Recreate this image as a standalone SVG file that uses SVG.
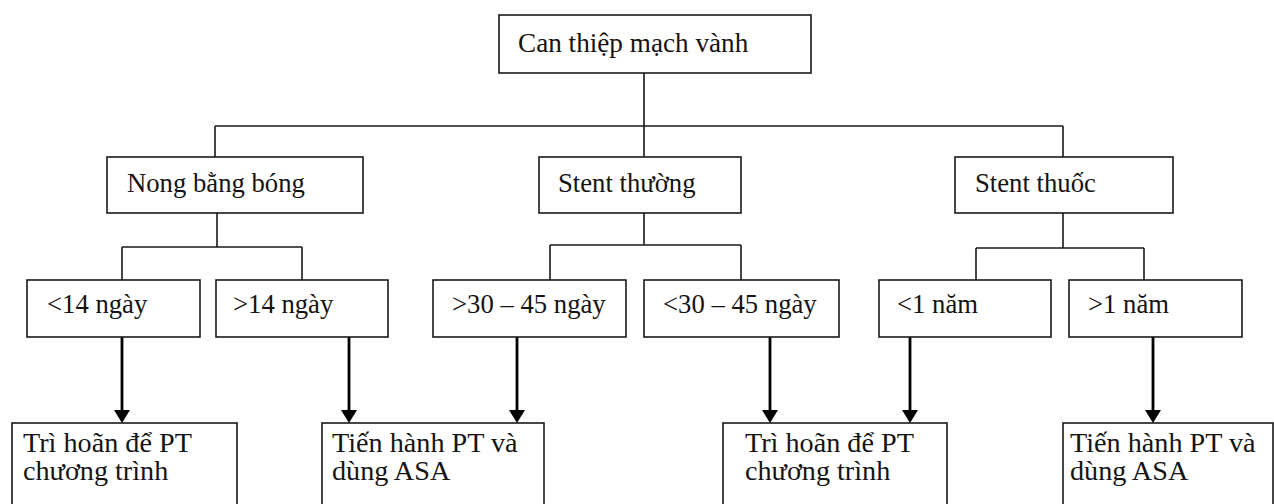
<svg xmlns="http://www.w3.org/2000/svg" width="1274" height="504" viewBox="0 0 1274 504">
  <style>
    .box { fill: #ffffff; stroke: #1a1a1a; stroke-width: 1.6; }
    .lbl { font-family: 'Liberation Serif', 'DejaVu Serif', serif; font-size: 26.7px; fill: #141414; }
    .big { font-size: 27.2px; }
    .out { font-size: 28.2px; }
    .tree { fill: none; stroke: #1a1a1a; stroke-width: 1.6; }
    .stem { stroke: #000000; stroke-width: 2.8; }
    .tip { fill: #000000; }
  </style>
  <rect width="1274" height="504" fill="#ffffff"/>

  <!-- connectors -->
  <g id="connectors">
    <!-- root to first tier -->
    <path class="tree" d="M644,73 V126 M215,126 H1063 M215,126 V157 M644,126 V157 M1063,126 V157"/>
    <!-- first tier to second tier -->
    <path class="tree" d="M217,213 V247 M122,247 H302 M122,247 V280 M302,247 V280"/>
    <path class="tree" d="M644,213 V245 M550,245 H741 M550,245 V280 M741,245 V280"/>
    <path class="tree" d="M1063,213 V248 M976,248 H1144 M976,248 V280 M1144,248 V280"/>
    <!-- second tier to outcomes -->
    <line class="stem" x1="122" y1="337" x2="122" y2="412"/>
    <polygon class="tip" points="114,410 130,410 122,423"/>
    <line class="stem" x1="349" y1="337" x2="349" y2="412"/>
    <polygon class="tip" points="341,410 357,410 349,423"/>
    <line class="stem" x1="517" y1="337" x2="517" y2="412"/>
    <polygon class="tip" points="509,410 525,410 517,423"/>
    <line class="stem" x1="770" y1="337" x2="770" y2="412"/>
    <polygon class="tip" points="762,410 778,410 770,423"/>
    <line class="stem" x1="910" y1="337" x2="910" y2="412"/>
    <polygon class="tip" points="902,410 918,410 910,423"/>
    <line class="stem" x1="1153" y1="337" x2="1153" y2="412"/>
    <polygon class="tip" points="1145,410 1161,410 1153,423"/>
  </g>

  <!-- root -->
  <g id="can-thiep">
    <rect class="box" x="499" y="15" width="312" height="58"/>
    <text class="lbl big" x="518" y="52">Can thiệp mạch vành</text>
  </g>

  <!-- first tier -->
  <g id="nong-bang-bong">
    <rect class="box" x="107" y="157" width="256" height="56"/>
    <text class="lbl" x="127" y="192">Nong bằng bóng</text>
  </g>
  <g id="stent-thuong">
    <rect class="box" x="539" y="157" width="202" height="56"/>
    <text class="lbl" x="558" y="192">Stent thường</text>
  </g>
  <g id="stent-thuoc">
    <rect class="box" x="955" y="157" width="218" height="56"/>
    <text class="lbl" x="975" y="192">Stent thuốc</text>
  </g>

  <!-- second tier -->
  <g id="lt-14">
    <rect class="box" x="27" y="280" width="173" height="57"/>
    <text class="lbl" x="47" y="313">&lt;14 ngày</text>
  </g>
  <g id="gt-14">
    <rect class="box" x="216" y="280" width="172" height="57"/>
    <text class="lbl" x="233" y="313">&gt;14 ngày</text>
  </g>
  <g id="gt-30-45">
    <rect class="box" x="433" y="280" width="193" height="57"/>
    <text class="lbl" x="452" y="313">&gt;30 – 45 ngày</text>
  </g>
  <g id="lt-30-45">
    <rect class="box" x="644" y="280" width="195" height="57"/>
    <text class="lbl" x="663" y="313">&lt;30 – 45 ngày</text>
  </g>
  <g id="lt-1-nam">
    <rect class="box" x="879" y="280" width="172" height="57"/>
    <text class="lbl" x="897" y="313">&lt;1 năm</text>
  </g>
  <g id="gt-1-nam">
    <rect class="box" x="1069" y="280" width="173" height="57"/>
    <text class="lbl" x="1088" y="313">&gt;1 năm</text>
  </g>

  <!-- outcomes -->
  <g id="tri-hoan-1">
    <rect class="box" x="12" y="423" width="225" height="90"/>
    <text class="lbl out" x="23" y="452">Trì hoãn để PT</text>
    <text class="lbl out" x="23" y="480">chương trình</text>
  </g>
  <g id="tien-hanh-1">
    <rect class="box" x="322" y="423" width="222" height="90"/>
    <text class="lbl out" x="332" y="452">Tiến hành PT và</text>
    <text class="lbl out" x="332" y="480">dùng ASA</text>
  </g>
  <g id="tri-hoan-2">
    <rect class="box" x="723" y="423" width="224" height="90"/>
    <text class="lbl out" x="745" y="452">Trì hoãn để PT</text>
    <text class="lbl out" x="745" y="480">chương trình</text>
  </g>
  <g id="tien-hanh-2">
    <rect class="box" x="1063" y="423" width="210" height="90"/>
    <text class="lbl out" x="1070" y="452">Tiến hành PT và</text>
    <text class="lbl out" x="1070" y="480">dùng ASA</text>
  </g>
</svg>
